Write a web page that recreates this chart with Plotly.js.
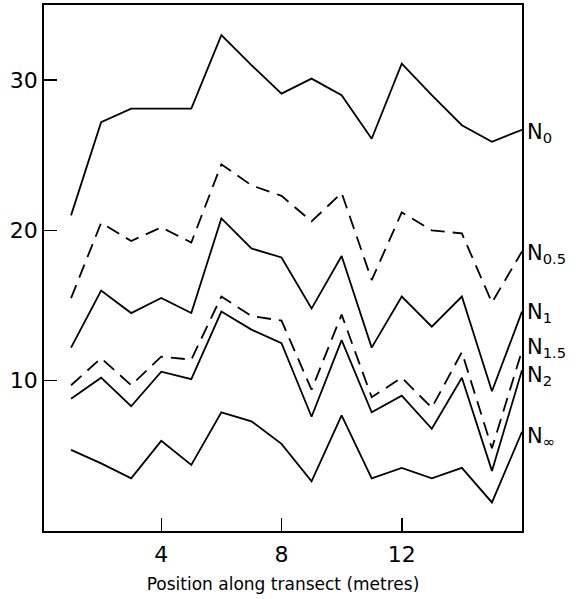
<!DOCTYPE html>
<html>
<head>
<meta charset="utf-8">
<script src="https://cdn.plot.ly/plotly-3.0.1.min.js"></script>
<style>html,body{margin:0;padding:0;background:#fff;}#chart{width:583px;height:599px;}</style>
</head>
<body>
<div id="chart"></div>
<script>
const positions = [1,2,3,4,5,6,7,8,9,10,11,12,13,14,15,16];
const N0   = [21.0, 27.2, 28.1, 28.1, 28.1, 33.0, 31.0, 29.1, 30.1, 29.0, 26.1, 31.1, 29.0, 27.0, 25.9, 26.7];
const N05  = [15.5, 20.5, 19.3, 20.2, 19.2, 24.4, 23.0, 22.3, 20.6, 22.5, 16.7, 21.2, 20.0, 19.8, 15.2, 18.6];
const N1   = [12.2, 16.0, 14.5, 15.5, 14.5, 20.8, 18.8, 18.2, 14.8, 18.3, 12.2, 15.6, 13.6, 15.6, 9.3, 14.6];
const N15  = [9.7, 11.5, 9.7, 11.6, 11.4, 15.6, 14.3, 14.0, 9.4, 14.4, 8.9, 10.2, 8.2, 11.9, 5.5, 12.0];
const N2   = [8.8, 10.2, 8.3, 10.6, 10.1, 14.6, 13.4, 12.5, 7.6, 12.7, 7.9, 9.0, 6.8, 10.2, 4.0, 10.7];
const Ninf = [5.4, 4.5, 3.5, 6.0, 4.4, 7.9, 7.3, 5.8, 3.3, 7.7, 3.5, 4.2, 3.5, 4.2, 1.9, 6.6];

const seriesNames = ['N<sub>0</sub>', 'N<sub>0.5</sub>', 'N<sub>1</sub>', 'N<sub>1.5</sub>', 'N<sub>2</sub>', 'N<sub>∞</sub>'];
const labelY = [26.7, 18.6, 14.7, 12.4, 10.5, 6.45];
const xTicks = [4, 8, 12];
const yTicks = [10, 20, 30];
const xTitle = 'Position along transect (metres)';

const series = [N0, N05, N1, N15, N2, Ninf];
const dashed = [false, true, false, true, false, false];
const FONT = 'DejaVu Sans, sans-serif';

const traces = series.map((s, i) => ({
  x: positions, y: s, type: 'scatter', mode: 'lines',
  line: {color: '#000', width: 1.8, dash: dashed[i] ? '14px,8px' : 'solid'},
  hoverinfo: 'skip', showlegend: false
}));

const annotations = seriesNames.map((t, i) => ({
  x: 1, xref: 'paper', y: labelY[i], yref: 'y',
  xanchor: 'left', yanchor: 'middle', xshift: 3, yshift: -3,
  text: t, showarrow: false,
  font: {family: FONT, size: 21, color: '#000'}
}));

const layout = {
  width: 583, height: 599,
  margin: {l: 44, r: 61, t: 5, b: 68},
  paper_bgcolor: '#fff', plot_bgcolor: '#fff',
  showlegend: false,
  xaxis: {
    range: [0.1, 16], tickvals: xTicks, ticktext: xTicks.map(String),
    ticks: 'inside', ticklen: 13, tickwidth: 1.5, tickcolor: '#000',
    showline: true, mirror: true, linecolor: '#000', linewidth: 1.8,
    showgrid: false, zeroline: false, ticklabelstandoff: 3,
    tickfont: {family: FONT, size: 22, color: '#000'},
    title: {text: xTitle, font: {family: FONT, size: 17, color: '#000'}, standoff: 12}
  },
  yaxis: {
    range: [0, 35], tickvals: yTicks, ticktext: yTicks.map(String),
    ticks: 'inside', ticklen: 13, tickwidth: 1.5, tickcolor: '#000',
    showline: true, mirror: true, linecolor: '#000', linewidth: 1.8,
    showgrid: false, zeroline: false,
    tickfont: {family: FONT, size: 22, color: '#000'}
  },
  annotations: annotations
};

Plotly.newPlot('chart', traces, layout, {staticPlot: true, displayModeBar: false});
</script>
</body>
</html>
